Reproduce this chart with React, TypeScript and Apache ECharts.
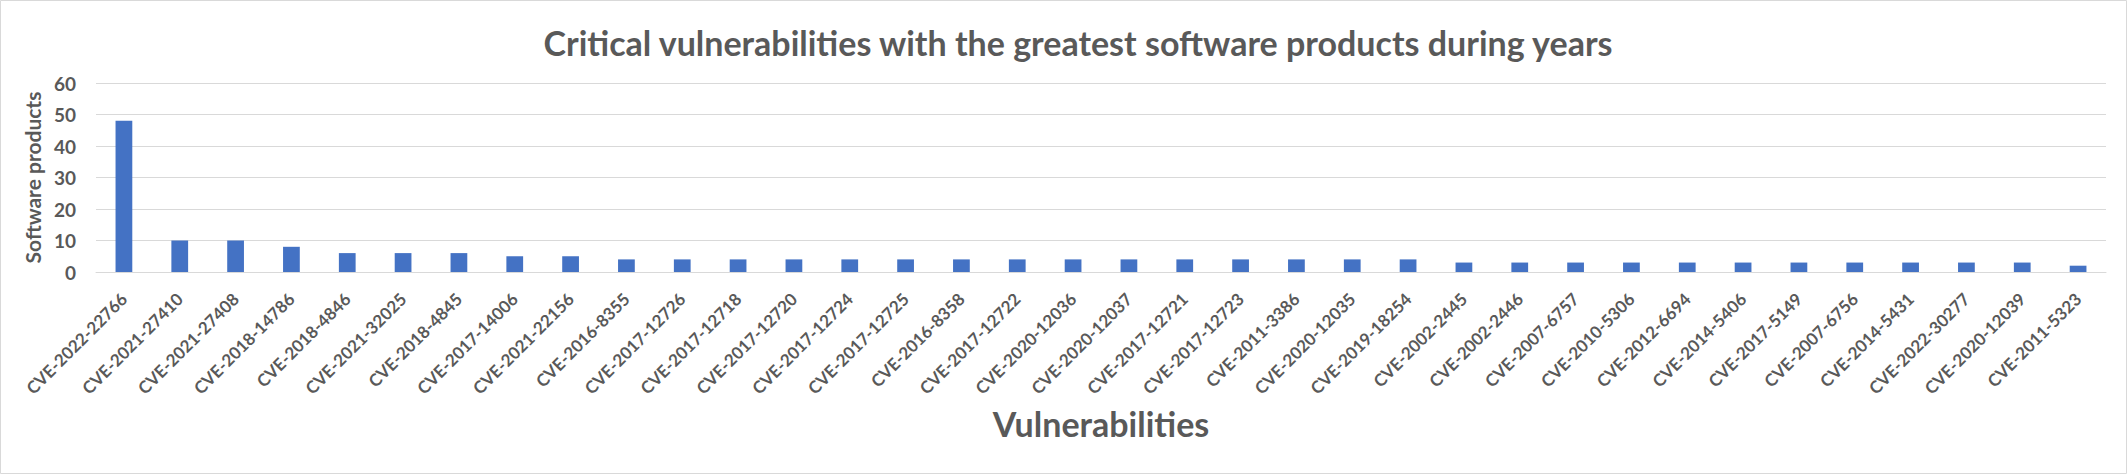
import React, { useEffect, useRef } from "react";
import * as echarts from "echarts";

const categories: string[] = [
  "CVE-2022-22766", "CVE-2021-27410", "CVE-2021-27408", "CVE-2018-14786", "CVE-2018-4846",
  "CVE-2021-32025", "CVE-2018-4845", "CVE-2017-14006", "CVE-2021-22156", "CVE-2016-8355",
  "CVE-2017-12726", "CVE-2017-12718", "CVE-2017-12720", "CVE-2017-12724", "CVE-2017-12725",
  "CVE-2016-8358", "CVE-2017-12722", "CVE-2020-12036", "CVE-2020-12037", "CVE-2017-12721",
  "CVE-2017-12723", "CVE-2011-3386", "CVE-2020-12035", "CVE-2019-18254", "CVE-2002-2445",
  "CVE-2002-2446", "CVE-2007-6757", "CVE-2010-5306", "CVE-2012-6694", "CVE-2014-5406",
  "CVE-2017-5149", "CVE-2007-6756", "CVE-2014-5431", "CVE-2022-30277", "CVE-2020-12039",
  "CVE-2011-5323",
];

const softwareProducts: number[] = [
  48, 10, 10, 8, 6,
  6, 6, 5, 5, 4,
  4, 4, 4, 4, 4,
  4, 4, 4, 4, 4,
  4, 4, 4, 4, 3,
  3, 3, 3, 3, 3,
  3, 3, 3, 3, 3,
  2,
];

const yTicks = { min: 0, max: 60, interval: 10 };

const chartTitle = "Critical vulnerabilities with the greatest software products during years";
const xName = "Vulnerabilities";
const yName = "Software products";

const FONT = "Lato, 'Open Sans', sans-serif";
const TEXT = "#595959";

export default function App() {
  const ref = useRef<HTMLDivElement>(null);
  useEffect(() => {
    document.body.style.margin = "0";
    const chart = echarts.init(ref.current!, null, { renderer: "svg" });
    chart.setOption({
      animation: false,
      backgroundColor: "#ffffff",
      title: {
        text: chartTitle,
        left: 1073,
        top: 20,
        textAlign: "center",
        textStyle: { fontFamily: FONT, fontWeight: "bold", fontSize: 34, color: TEXT },
      },
      graphic: [
        {
          type: "rect",
          shape: { x: 0.5, y: 0.5, width: 2126, height: 473 },
          style: { fill: "none", stroke: "#d9d9d9", lineWidth: 1 },
          silent: true,
        },
      ],
      grid: { left: 96, right: 21, top: 83, bottom: 202, containLabel: false },
      xAxis: {
        type: "category",
        data: categories,
        name: xName,
        nameLocation: "middle",
        nameGap: 134,
        nameTextStyle: { fontFamily: FONT, fontWeight: "bold", fontSize: 34, color: TEXT },
        axisTick: { show: false },
        axisLine: { lineStyle: { color: "#d9d9d9", width: 1 } },
        axisLabel: {
          rotate: 45,
          interval: 0,
          margin: 24,
          fontFamily: FONT,
          fontWeight: "bold",
          fontSize: 17,
          color: TEXT,
        },
      },
      yAxis: {
        type: "value",
        min: yTicks.min,
        max: yTicks.max,
        interval: yTicks.interval,
        name: yName,
        nameLocation: "middle",
        nameGap: 50,
        nameRotate: 90,
        nameTextStyle: { fontFamily: FONT, fontWeight: "bold", fontSize: 21, color: TEXT },
        axisLine: { show: false },
        axisTick: { show: false },
        splitLine: { lineStyle: { color: "#d9d9d9", width: 1 } },
        axisLabel: { fontFamily: FONT, fontWeight: "bold", fontSize: 19, color: TEXT, margin: 20 },
      },
      series: [
        {
          type: "bar",
          data: softwareProducts,
          barWidth: "30%",
          itemStyle: { color: "#4472c4" },
        },
      ],
    });
    return () => chart.dispose();
  }, []);
  return (
    <div
      ref={ref}
      style={{ position: "absolute", left: 0, top: 0, width: 2127, height: 474 }}
    />
  );
}
